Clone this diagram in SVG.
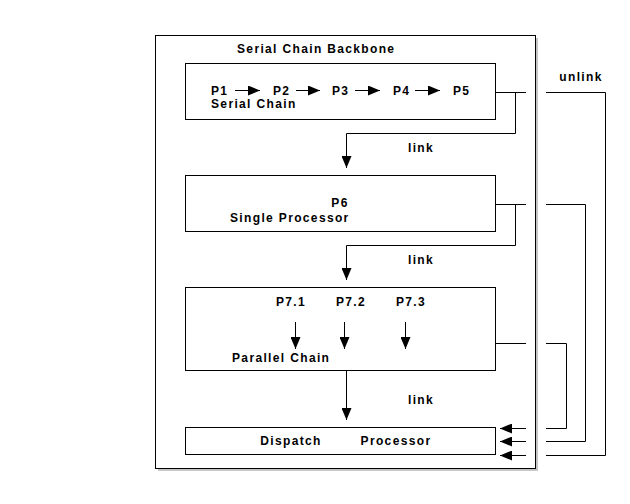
<svg xmlns="http://www.w3.org/2000/svg" width="630" height="504" viewBox="0 0 630 504">
<style>
.t{font-family:"Liberation Sans",Arial,sans-serif;font-size:12px;font-weight:bold;letter-spacing:1.35px;fill:#000}
.box{fill:#fff;stroke:#000;stroke-width:1}
.ln{fill:none;stroke:#000;stroke-width:1}
</style>
<defs>
<marker id="ah" viewBox="0 0 12 10" refX="12" refY="5" markerWidth="12" markerHeight="10" markerUnits="userSpaceOnUse" orient="auto">
<path d="M0,0 L12,5 L0,10 Z" fill="#000"/>
</marker>
</defs>
<rect width="630" height="504" fill="#fff"/>
<g id="backbone">
<rect x="158" y="38" width="380" height="433" fill="#a0a0a0" opacity="0.6"/>
<rect x="155.5" y="35.5" width="380" height="433" class="box"/>
<text class="t" x="237" y="53">Serial Chain Backbone</text>
</g>
<g id="serial">
<rect x="185.5" y="63.5" width="310" height="56" class="box"/>
<text class="t" x="211" y="95">P1</text>
<text class="t" x="273" y="95">P2</text>
<text class="t" x="332" y="95">P3</text>
<text class="t" x="393" y="95">P4</text>
<text class="t" x="453" y="95">P5</text>
<text class="t" x="211" y="108">Serial Chain</text>
<line class="ln" x1="235" y1="90.5" x2="260" y2="90.5" marker-end="url(#ah)"/>
<line class="ln" x1="296" y1="90.5" x2="320" y2="90.5" marker-end="url(#ah)"/>
<line class="ln" x1="355" y1="90.5" x2="380" y2="90.5" marker-end="url(#ah)"/>
<line class="ln" x1="415" y1="90.5" x2="440" y2="90.5" marker-end="url(#ah)"/>
</g>
<g id="single">
<rect x="185.5" y="175.5" width="310" height="56" class="box"/>
<text class="t" x="340" y="207" text-anchor="middle">P6</text>
<text class="t" x="230" y="222">Single Processor</text>
</g>
<g id="parallel">
<rect x="185.5" y="287.5" width="310" height="83" class="box"/>
<text class="t" x="291" y="306" text-anchor="middle">P7.1</text>
<text class="t" x="351" y="306" text-anchor="middle">P7.2</text>
<text class="t" x="411" y="306" text-anchor="middle">P7.3</text>
<text class="t" x="232" y="362">Parallel Chain</text>
<line class="ln" x1="295.5" y1="322" x2="295.5" y2="349" marker-end="url(#ah)"/>
<line class="ln" x1="344.5" y1="322" x2="344.5" y2="349" marker-end="url(#ah)"/>
<line class="ln" x1="405.5" y1="322" x2="405.5" y2="349" marker-end="url(#ah)"/>
</g>
<g id="dispatch">
<rect x="185.5" y="427.5" width="310" height="27" class="box"/>
<text class="t" x="291" y="445" text-anchor="middle">Dispatch</text>
<text class="t" x="396" y="445" text-anchor="middle">Processor</text>
</g>
<g id="connectors">
<polyline class="ln" points="495,92.5 526,92.5"/>
<polyline class="ln" points="515.5,92.5 515.5,133.5 346.5,133.5 346.5,168" marker-end="url(#ah)"/>
<text class="t" x="421" y="152" text-anchor="middle">link</text>
<polyline class="ln" points="495,204.5 526,204.5"/>
<polyline class="ln" points="515.5,204.5 515.5,245.5 346.5,245.5 346.5,280" marker-end="url(#ah)"/>
<text class="t" x="421" y="264" text-anchor="middle">link</text>
<polyline class="ln" points="346.5,370 346.5,420" marker-end="url(#ah)"/>
<text class="t" x="421" y="404" text-anchor="middle">link</text>
<polyline class="ln" points="495,343.5 526,343.5"/>
<text class="t" x="581" y="81" text-anchor="middle">unlink</text>
<polyline class="ln" points="546,92.5 605.5,92.5 605.5,455.5 546,455.5"/>
<polyline class="ln" points="546,204.5 585.5,204.5 585.5,441.5 546,441.5"/>
<polyline class="ln" points="546,343.5 566.5,343.5 566.5,428.5 546,428.5"/>
<line class="ln" x1="526" y1="428.5" x2="500" y2="428.5" marker-end="url(#ah)"/>
<line class="ln" x1="526" y1="441.5" x2="500" y2="441.5" marker-end="url(#ah)"/>
<line class="ln" x1="526" y1="455.5" x2="500" y2="455.5" marker-end="url(#ah)"/>
</g>
</svg>
